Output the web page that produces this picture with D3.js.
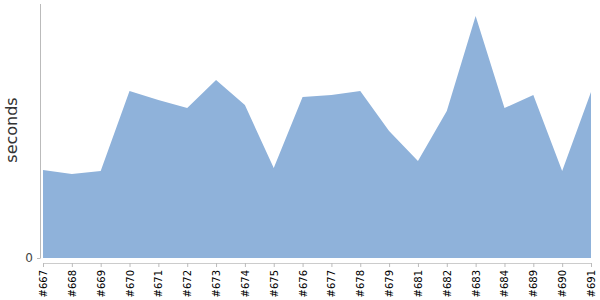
<!DOCTYPE html>
<html><head><meta charset="utf-8">
<script src="https://cdn.jsdelivr.net/npm/d3@7/dist/d3.min.js"></script>
<style>body{margin:0;background:#fff}svg{display:block}</style>
</head><body>
<svg id="c" width="600" height="300"></svg>
<script>
const categories = ["#667","#668","#669","#670","#671","#672","#673","#674","#675","#676","#677","#678","#679","#681","#682","#683","#684","#689","#690","#691"];
const seconds = [88,84,87,167,158,150,178,153,90,161,163,167,127,97,147,242,150,163,87,166];
const yTicks = [0];

const svg = d3.select("#c");
const x = d3.scalePoint().domain(categories).range([43, 591]);
const y = d3.scaleLinear().domain([0, 254]).range([258, 4]);

const data = categories.map((c, i) => ({c, v: seconds[i]}));
svg.append("path").datum(data)
  .attr("fill", "#8fb2da")
  .attr("d", d3.area().x(d => x(d.c)).y0(y(0)).y1(d => y(d.v)));

// y axis
const ya = svg.append("g").attr("transform", "translate(40,0)")
  .call(d3.axisLeft(y).tickValues(yTicks).tickSize(3).tickPadding(4).tickFormat(d3.format("d")));
ya.select(".domain").attr("stroke", "#bbb").attr("d", "M0.5,4V258.5");
ya.selectAll(".tick line").attr("stroke", "#bbb");
ya.selectAll(".tick text").attr("font-family", "DejaVu Sans").attr("font-size", 12).attr("fill", "#444");

// x axis
const xa = svg.append("g").attr("transform", "translate(0,263)")
  .call(d3.axisBottom(x).tickSize(4).tickSizeOuter(0).tickPadding(3));
xa.select(".domain").attr("stroke", "#ccc");
xa.selectAll(".tick line").attr("stroke", "#bbb");
xa.selectAll(".tick text")
  .attr("font-family", "DejaVu Sans").attr("font-size", 10).attr("fill", "#000")
  .attr("text-anchor", "end").attr("dy", "0.35em")
  .attr("transform", "rotate(-90)").attr("x", -7).attr("y", 0);

svg.append("text").attr("transform", "translate(17,130) rotate(-90)")
  .attr("text-anchor", "middle").attr("font-family", "DejaVu Sans")
  .attr("font-size", 16).attr("fill", "#333").text("seconds");
</script>
</body></html>
